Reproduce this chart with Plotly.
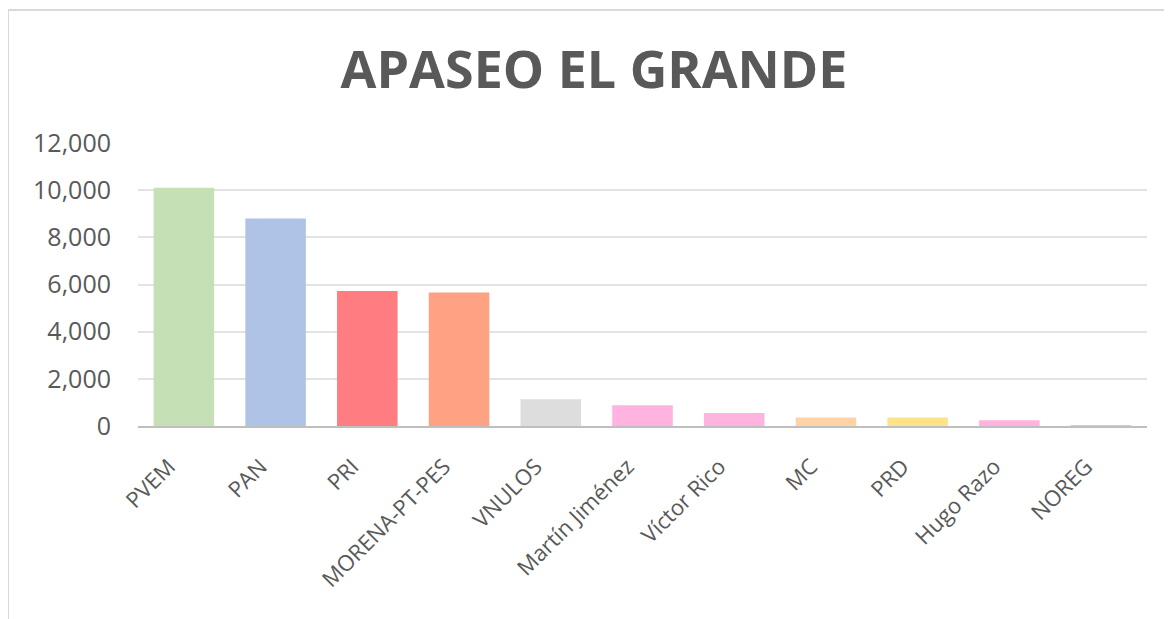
import plotly.graph_objects as go

categories = ["PVEM", "PAN", "PRI", "MORENA-PT-PES", "VNULOS", "Martín Jiménez",
              "Víctor Rico", "MC", "PRD", "Hugo Razo", "NOREG"]
votes = [10100, 8800, 5720, 5660, 1130, 885, 550, 360, 360, 240, 10]
colors = ["#C5E0B4", "#AFC3E6", "#FF7C80", "#FFA283", "#DDDDDD", "#FFB3DE",
          "#FFB3DE", "#FFD3A6", "#FFE38A", "#FFB3DE", "#FFB3DE"]
y_ticks = [0, 2000, 4000, 6000, 8000, 10000, 12000]

fig = go.Figure()
fig.add_trace(go.Bar(x=categories, y=votes, marker=dict(color=colors, line=dict(width=0)),
                     hoverinfo="x+y"))

# page body has an 8px offset; work in figure coordinates
OFF = 8
W, H = 1172 - OFF, 619 - OFF
L, T = 138 - OFF, 143 - OFF
R = W - (1147 - OFF)
B = H - (426 - OFF)
pw, ph = W - L - R, H - T - B

def px_x(x):
    return (x - L) / pw

def px_y(y):
    return (H - B - y) / ph

fig.update_layout(
    width=W, height=H,
    margin=dict(l=L, r=R, t=T, b=B),
    paper_bgcolor="white", plot_bgcolor="white",
    bargap=0.34,
    showlegend=False,
    title=dict(text="<b>APASEO EL GRANDE</b>", x=(594 - OFF) / W, xref="container",
               xanchor="center", y=1 - 62 / H, yref="container", yanchor="middle",
               font=dict(family="Open Sans", size=52, color="#595959")),
    font=dict(family="Open Sans", color="#595959"),
    xaxis=dict(tickangle=-45, tickfont=dict(size=22, color="#595959"),
               showgrid=False, showline=True, linecolor="#BFBFBF", linewidth=2,
               ticks="", ticklabelstandoff=17, ticklabelshift=-15),
    yaxis=dict(range=[0, 12000], tickvals=y_ticks, tickformat=",",
               tickfont=dict(size=25, color="#595959"),
               showgrid=True, gridcolor="#E3E3E3", gridwidth=2,
               zeroline=False, showline=False, ticks="", ticklabelstandoff=26),
    shapes=[
        dict(type="line", xref="paper", yref="paper",
             x0=px_x(0), x1=px_x(0), y0=px_y(2), y1=px_y(H + 5),
             line=dict(color="#D9D9D9", width=2)),
        dict(type="line", xref="paper", yref="paper",
             x0=px_x(0), x1=px_x(W + 5), y0=px_y(2), y1=px_y(2),
             line=dict(color="#D9D9D9", width=2)),
    ],
)

fig.write_html("out.html")
